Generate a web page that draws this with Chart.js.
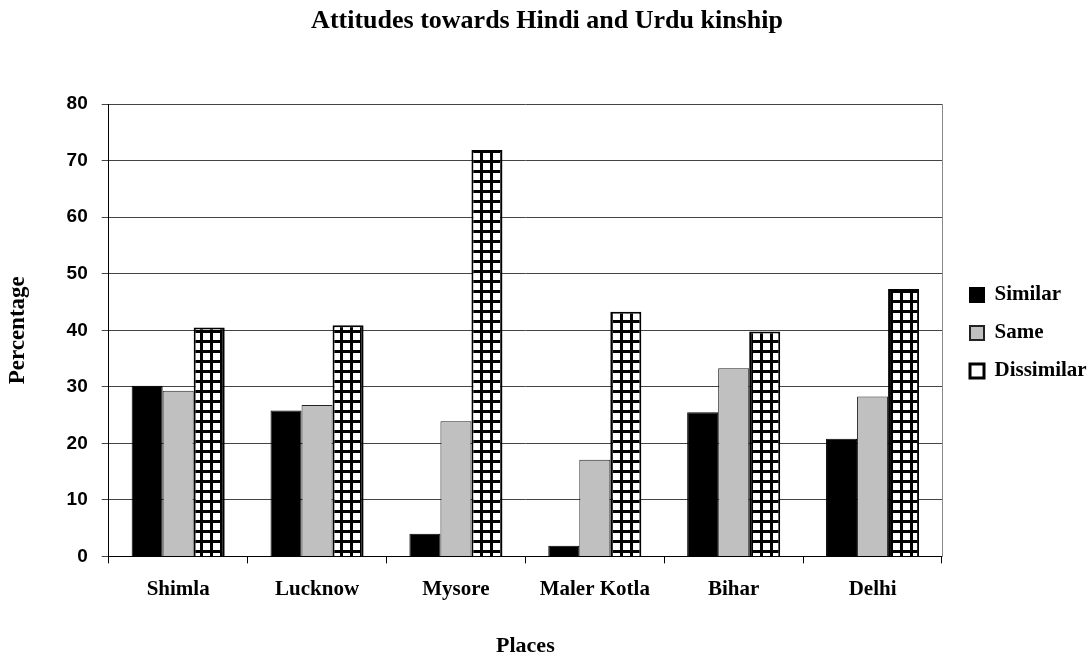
<!DOCTYPE html>
<html>
<head>
<meta charset="utf-8">
<script src="https://cdn.jsdelivr.net/npm/chart.js@4"></script>
<style>
  body { margin: 0; background: #fff; }
</style>
</head>
<body>
<canvas id="chart" width="1090" height="660"></canvas>
<script>
const places = ["Shimla", "Lucknow", "Mysore", "Maler Kotla", "Bihar", "Delhi"];
const similar = [30.2, 25.8, 4.0, 1.9, 25.5, 20.8];
const same = [29.3, 26.8, 23.9, 17.1, 33.3, 28.3];
const dissimilar = [40.5, 40.9, 71.9, 43.3, 39.8, 47.3];
const yTicks = [0, 10, 20, 30, 40, 50, 60, 70, 80];

// little grid pattern for the "Dissimilar" bars
function gridPattern() {
    const c = document.createElement("canvas");
    c.width = 10;
    c.height = 10;
    const g = c.getContext("2d");
    g.fillStyle = "#000";
    g.fillRect(0, 0, 10, 10);
    g.fillStyle = "#fff";
    g.fillRect(3, 3, 7, 7);
    return g.createPattern(c, "repeat");
}

const serif = "'Liberation Serif', 'Times New Roman', serif";
const sans = "'Liberation Sans', Arial, sans-serif";

const ctx = document.getElementById("chart").getContext("2d");
new Chart(ctx, {
    type: "bar",
    data: {
        labels: places,
        datasets: [
            {
                label: "Similar",
                data: similar,
                backgroundColor: "#000000",
                borderColor: "#000000",
                borderWidth: 1,
            },
            {
                label: "Same",
                data: same,
                backgroundColor: "#c0c0c0",
                borderColor: "#222222",
                borderWidth: 1,
            },
            {
                label: "Dissimilar",
                data: dissimilar,
                backgroundColor: gridPattern(),
                borderColor: "#000000",
                borderWidth: 2,
            },
        ],
    },
    options: {
        responsive: false,
        animation: false,
        datasets: {
            bar: {
                categoryPercentage: 0.67,
                barPercentage: 1.0,
            },
        },
        layout: {
            padding: { left: 4, right: 0, top: 6, bottom: 0 },
        },
        plugins: {
            title: {
                display: true,
                text: "Attitudes towards Hindi and Urdu kinship",
                color: "#000",
                font: { family: serif, size: 26, weight: "bold" },
                padding: { top: 0, bottom: 67 },
            },
            legend: {
                position: "right",
                maxWidth: 137,
                labels: {
                    color: "#000",
                    boxWidth: 14,
                    boxHeight: 14,
                    padding: 17,
                    font: { family: serif, size: 21, weight: "bold" },
                    generateLabels: (chart) => {
                        const items = Chart.defaults.plugins.legend.labels.generateLabels(chart);
                        items.forEach((it, i) => {
                            it.lineWidth = 2;
                            if (i === 2) {
                                it.fillStyle = "#ffffff";
                                it.lineWidth = 3;
                            }
                        });
                        return items;
                    },
                },
            },
            tooltip: { enabled: false },
        },
        scales: {
            x: {
                grid: {
                    offset: true,
                    drawOnChartArea: false,
                    drawTicks: true,
                    tickLength: 7,
                    color: "#000",
                },
                border: { color: "#000", width: 1 },
                ticks: {
                    color: "#000",
                    padding: 14,
                    font: { family: serif, size: 21, weight: "bold" },
                },
                title: {
                    display: true,
                    text: "Places",
                    color: "#000",
                    font: { family: serif, size: 22, weight: "bold" },
                    padding: { top: 17, bottom: 0 },
                },
            },
            y: {
                min: 0,
                max: 80,
                afterBuildTicks: (scale) => {
                    scale.ticks = yTicks.map((v) => ({ value: v }));
                },
                grid: {
                    color: "#444",
                    lineWidth: 1,
                    tickLength: 7,
                },
                border: { color: "#000", width: 1 },
                ticks: {
                    color: "#000",
                    padding: 14,
                    font: { family: sans, size: 19, weight: "bold" },
                },
                title: {
                    display: true,
                    text: "Percentage",
                    color: "#000",
                    font: { family: serif, size: 23, weight: "bold" },
                    padding: { top: 0, bottom: 21 },
                },
            },
            y2: {
                position: "right",
                min: 0,
                max: 80,
                grid: { display: false, drawTicks: false },
                ticks: { display: false },
                border: { color: "#888", width: 1 },
                afterFit: (scale) => {
                    scale.width = 11;
                },
            },
        },
    },
});
</script>
</body>
</html>
